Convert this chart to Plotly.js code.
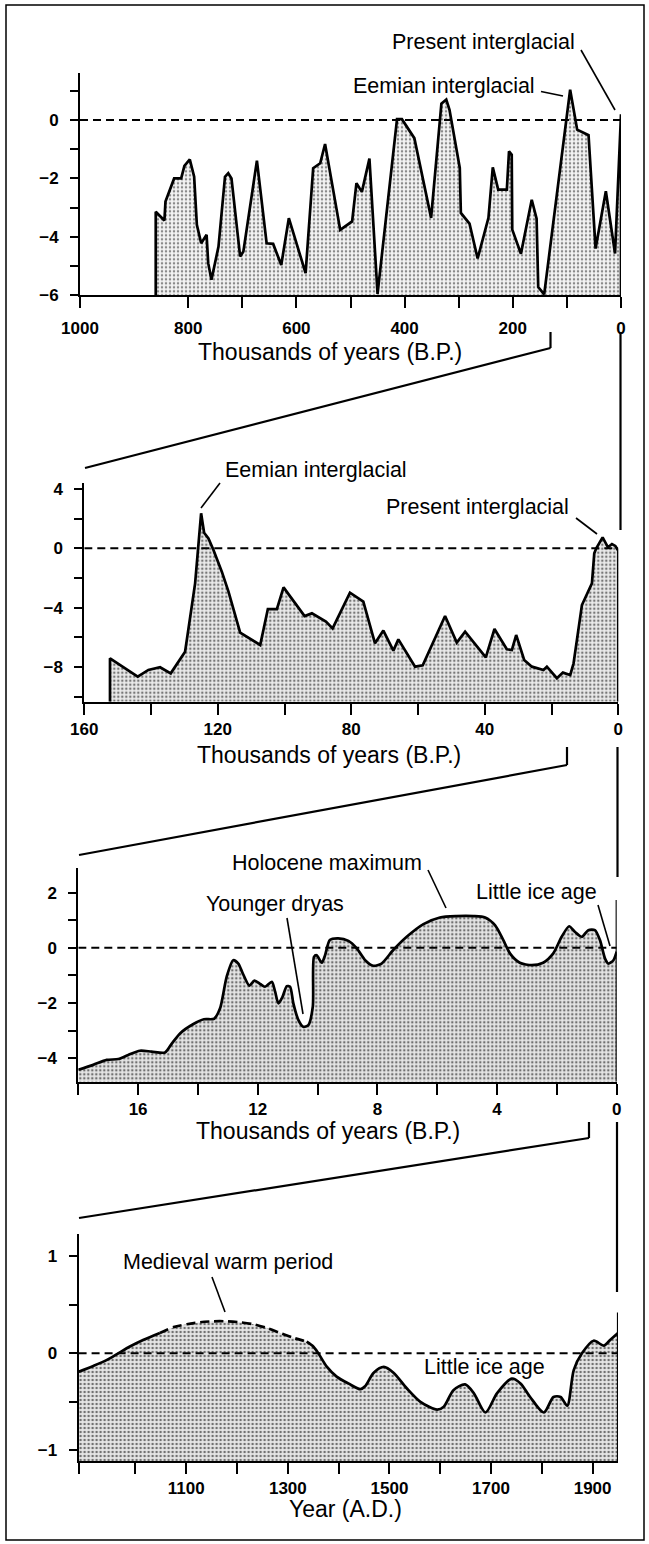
<!DOCTYPE html>
<html>
<head>
<meta charset="utf-8">
<script src="https://cdn.plot.ly/plotly-3.0.1.min.js"></script>
<style>
html,body{margin:0;padding:0;background:#fff;}
#chart{width:649px;height:1544px;}
</style>
</head>
<body>
<div id="chart"></div>
<script>
// ---------- DATA ----------
// Panel 1: last 1 million years (thousands of years B.P.)
const ages1 = [860,844,842,826,813,807,797,789,784,776,766,763,757,744,732,726,720,704,698,673,655,643,628,614,583,569,556,547,519,497,489,479,465,450,414,405,382,351,332,323,317,298,296,280,265,245,237,227,211,207,202,201,185,165,156,153,142,94,81,60,47,28,11,0];
const temps1 = [-3.14,-3.44,-2.79,-2.0,-2.0,-1.57,-1.35,-1.94,-3.59,-4.22,-3.93,-4.9,-5.47,-4.33,-1.94,-1.82,-2.0,-4.67,-4.5,-1.39,-4.22,-4.24,-4.96,-3.36,-5.24,-1.65,-1.48,-0.82,-3.76,-3.47,-2.16,-2.46,-1.32,-5.95,0.03,0.03,-0.62,-3.35,0.56,0.70,0.35,-1.64,-3.18,-3.55,-4.74,-3.35,-1.62,-2.38,-2.38,-1.07,-1.19,-3.75,-4.58,-2.73,-3.38,-5.72,-5.97,1.04,-0.33,-0.52,-4.4,-2.44,-4.57,0.2];

// Panel 2: last 160,000 years
const ages2 = [152.3,144,140.8,137.3,134.1,129.8,126.8,125,124.1,122.8,121.3,118.8,116.8,113.3,107.3,105,102.3,100.3,94,91.8,87.6,85.6,82.8,80.4,76.4,72.9,70.4,67.4,65.9,60.9,58.6,51.9,48.4,45.9,39.7,37.1,33.4,31.9,30.6,28.2,25.9,22.4,21.4,18.4,16.6,14.4,13.4,10.9,7.9,7.2,6.6,4.7,3.1,1.9,0.9,0];
const temps2 = [-7.41,-8.64,-8.19,-8.01,-8.42,-6.96,-2.36,2.36,1.05,0.67,-0.11,-1.57,-2.92,-5.68,-6.51,-4.09,-4.09,-2.63,-4.56,-4.38,-4.94,-5.39,-4.04,-2.99,-3.59,-6.40,-5.54,-6.89,-6.13,-7.97,-7.88,-4.56,-6.35,-5.61,-7.34,-5.43,-6.80,-6.85,-5.84,-7.52,-7.97,-8.19,-7.97,-8.75,-8.37,-8.53,-7.74,-3.82,-2.36,-0.34,0,0.74,0.07,0.29,0.16,-0.16];

// Panel 3: last 18,000 years
const ages3 = [18,17.5,17.05,16.66,16.33,15.94,15.55,15.1,14.88,14.6,14.15,13.8,13.46,13.26,13.04,12.82,12.65,12.5,12.28,12.11,11.92,11.76,11.53,11.42,11.31,11.17,11.03,10.92,10.81,10.64,10.48,10.31,10.16,10.12,10.03,9.86,9.75,9.59,9.31,8.97,8.69,8.41,8.14,7.86,7.47,7.02,6.46,5.91,5.35,4.79,4.4,4.07,3.79,3.57,3.24,2.84,2.46,2.12,1.84,1.59,1.4,1.17,0.95,0.73,0.56,0.39,0.28,0.11,0];
const temps3 = [-4.42,-4.24,-4.06,-4.03,-3.88,-3.73,-3.76,-3.79,-3.48,-3.10,-2.76,-2.59,-2.57,-2.19,-1.05,-0.45,-0.57,-0.93,-1.37,-1.19,-1.31,-1.41,-1.23,-1.59,-2.01,-1.77,-1.39,-1.41,-2.01,-2.62,-2.86,-2.80,-2.13,-0.33,-0.27,-0.54,-0.27,0.28,0.34,0.25,-0.02,-0.45,-0.65,-0.57,-0.08,0.40,0.86,1.10,1.15,1.15,1.10,0.82,0.28,-0.20,-0.54,-0.63,-0.54,-0.20,0.40,0.78,0.58,0.40,0.64,0.64,0.28,-0.39,-0.57,-0.45,-0.14];

// Panel 4: last 1,000 years (A.D.)
const years4 = [888,917,943,966,989,1016,1048,1075,1101,1127,1153,1180,1206,1232,1259,1285,1311,1337,1350,1360,1377,1396,1419,1443,1452,1469,1489,1508,1534,1561,1594,1607,1626,1649,1666,1689,1712,1741,1758,1777,1804,1823,1837,1850,1863,1879,1902,1922,1935,1950];
const temps4 = [-0.19,-0.13,-0.07,0,0.07,0.14,0.21,0.27,0.30,0.32,0.33,0.33,0.32,0.30,0.26,0.21,0.16,0.12,0.07,0,-0.14,-0.24,-0.31,-0.37,-0.34,-0.20,-0.14,-0.20,-0.36,-0.50,-0.58,-0.55,-0.38,-0.32,-0.41,-0.61,-0.41,-0.26,-0.31,-0.45,-0.61,-0.45,-0.45,-0.54,-0.17,0,0.13,0.08,0.14,0.21];
const dashedFrom4 = 1048, dashedTo4 = 1337;   // uncertain (dashed) part of the curve

// Tick values / labels
const xTicks1 = [1000,800,700,600,500,400,300,200,100,0];
const xLabels1 = ['1000','800','','600','','400','','200','','0'];
const yTicks1 = [-6,-5,-4,-3,-2,-1,0,1];
const yLabels1 = ['\u22126','','\u22124','','\u22122','','0',''];

const xTicks2 = [160,140,120,100,80,60,40,20,0];
const xLabels2 = ['160','','120','','80','','40','','0'];
const yTicks2 = [-10,-8,-6,-4,-2,0,2,4];
const yLabels2 = ['','\u22128','','\u22124','','0','','4'];

const xTicks3 = [18,16,14,12,10,8,6,4,2,0];
const xLabels3 = ['','16','','12','','8','','4','','0'];
const yTicks3 = [-4,-3,-2,-1,0,1,2];
const yLabels3 = ['\u22124','','\u22122','','0','','2'];

const xTicks4 = [888,1000,1100,1200,1300,1400,1500,1600,1700,1800,1900];
const xLabels4 = ['','','1100','','1300','','1500','','1700','','1900'];
const yTicks4 = [-1,-0.5,0,0.5,1];
const yLabels4 = ['\u22121','','0','','1'];

// ---------- LAYOUT HELPERS ----------
const W = 649, H = 1544;
const FONT = '"Liberation Sans", Arial, Helvetica, sans-serif';
const fx = p => p / W;
const fy = p => 1 - p / H;

const ranges = {
  x1: [1000, 0], y1: [-6, 1.6],
  x2: [160, 0],  y2: [-10.33, 4.42],
  x3: [18, 0],   y3: [-4.85, 2.88],
  x4: [888, 1950], y4: [-1.11, 1.23]
};

const tickFont = {family: FONT, size: 17, color: '#000', weight: 'bold'};
function xAxis(px0, px1, range, vals, text, anchor, standoff) {
  return {domain: [fx(px0), fx(px1)], range: range, anchor: anchor,
    tickmode: 'array', tickvals: vals, ticktext: text,
    ticks: 'outside', ticklen: 11, tickwidth: 2, tickcolor: '#000',
    showline: true, linecolor: '#000', linewidth: 2,
    showgrid: false, zeroline: false, tickfont: tickFont,
    ticklabelstandoff: standoff, fixedrange: true};
}
function yAxis(pyTop, pyBot, range, vals, text, anchor) {
  return {domain: [fy(pyBot), fy(pyTop)], range: range, anchor: anchor,
    tickmode: 'array', tickvals: vals, ticktext: text,
    ticks: 'outside', ticklen: 8, tickwidth: 2, tickcolor: '#000',
    showline: true, linecolor: '#000', linewidth: 2,
    showgrid: false, zeroline: false, tickfont: tickFont,
    ticklabelstandoff: 8, fixedrange: true};
}

function stipple(fg, bg) {
  return {shape: '.', size: 4, solidity: 0.3, fgcolor: fg, bgcolor: bg};
}

// closed polygon (data + drop to the axis floor at both ends)
function closedX(xs) { return [xs[0]].concat(xs, [xs[xs.length - 1]]); }
function closedY(ys, floor) { return [floor].concat(ys, [floor]); }

const LW = 2.7;
const traces = [];
// Panel 1
traces.push({x: closedX(ages1), y: closedY(temps1, ranges.y1[0]), xaxis: 'x', yaxis: 'y',
  mode: 'lines', line: {color: '#000', width: LW}, fill: 'toself',
  fillcolor: '#ececec', fillpattern: stipple('#8a8a8a', '#f3f3f3'), hoverinfo: 'skip'});
// Panel 2
traces.push({x: closedX(ages2), y: closedY(temps2, ranges.y2[0]), xaxis: 'x2', yaxis: 'y2',
  mode: 'lines', line: {color: '#000', width: LW}, fill: 'toself',
  fillcolor: '#e0e0e0', fillpattern: stipple('#777', '#ebebeb'), hoverinfo: 'skip'});
// Panel 3
traces.push({x: [ages3[0], ages3[ages3.length - 1]], y: [ranges.y3[0], ranges.y3[0]],
  xaxis: 'x3', yaxis: 'y3', mode: 'lines', line: {width: 0, color: 'rgba(0,0,0,0)'}, hoverinfo: 'skip'});
traces.push({x: ages3, y: temps3, xaxis: 'x3', yaxis: 'y3', mode: 'lines',
  line: {color: '#000', width: LW, shape: 'spline', smoothing: 0.7}, fill: 'tonexty',
  fillcolor: '#dcdcdc', fillpattern: stipple('#707070', '#e6e6e6'), hoverinfo: 'skip'});
// Panel 4
traces.push({x: [years4[0], years4[years4.length - 1]], y: [ranges.y4[0], ranges.y4[0]],
  xaxis: 'x4', yaxis: 'y4', mode: 'lines', line: {width: 0, color: 'rgba(0,0,0,0)'}, hoverinfo: 'skip'});
traces.push({x: years4, y: temps4, xaxis: 'x4', yaxis: 'y4', mode: 'lines',
  line: {color: 'rgba(0,0,0,0)', width: 0, shape: 'spline', smoothing: 0.8}, fill: 'tonexty',
  fillcolor: '#dcdcdc', fillpattern: stipple('#707070', '#e6e6e6'), hoverinfo: 'skip'});
function segment(lo, hi) {
  const xs = [], ys = [];
  years4.forEach((yr, i) => { if (yr >= lo && yr <= hi) { xs.push(yr); ys.push(temps4[i]); } });
  return {xs, ys};
}
const segA = segment(years4[0], dashedFrom4);
const segB = segment(dashedFrom4, dashedTo4);
const segC = segment(dashedTo4, years4[years4.length - 1]);
[[segA, 'solid'], [segB, '9px,5px'], [segC, 'solid']].forEach(([s, d]) => {
  traces.push({x: s.xs, y: s.ys, xaxis: 'x4', yaxis: 'y4', mode: 'lines',
    line: {color: '#000', width: LW, dash: d, shape: 'spline', smoothing: 0.8}, hoverinfo: 'skip'});
});

// ---------- DECORATIONS ----------
function pline(x0, y0, x1, y1, w) {
  return {type: 'line', xref: 'paper', yref: 'paper', x0: fx(x0), y0: fy(y0), x1: fx(x1), y1: fy(y1),
    line: {color: '#000', width: w || 2.2}};
}
function zeroLine(xr, yr, range) {
  return {type: 'line', xref: xr, yref: yr, x0: range[0], x1: range[1], y0: 0, y1: 0,
    line: {color: '#000', width: 2, dash: '8px,5px'}};
}
const shapes = [
  {type: 'rect', xref: 'paper', yref: 'paper', x0: fx(6), x1: fx(644), y0: fy(1540), y1: fy(5),
    line: {color: '#000', width: 1.5}, fillcolor: 'rgba(0,0,0,0)', layer: 'below'},
  zeroLine('x', 'y', ranges.x1),
  zeroLine('x2', 'y2', ranges.x2),
  zeroLine('x3', 'y3', ranges.x3),
  zeroLine('x4', 'y4', ranges.x4),
  // right-hand end bars of panels 3 and 4
  {type: 'line', xref: 'x3', yref: 'y3', x0: 0, x1: 0, y0: ranges.y3[0], y1: 1.73, line: {color: '#000', width: 2.2}},
  {type: 'line', xref: 'x4', yref: 'y4', x0: 1950, x1: 1950, y0: ranges.y4[0], y1: 0.42, line: {color: '#000', width: 2.2}},
  // zoom connectors 1 -> 2
  pline(550.5, 332, 550.5, 348), pline(550.5, 348, 85, 468), pline(620.5, 333, 620.5, 530),
  // 2 -> 3
  pline(567, 747, 567, 765), pline(567, 765, 79, 855), pline(617.5, 747, 617.5, 877),
  // 3 -> 4
  pline(589, 1122, 589, 1138), pline(589, 1138, 79, 1218), pline(617, 1122, 617, 1292),
  // annotation leader lines
  pline(581, 50, 615, 110, 1.6),     // present interglacial (1)
  pline(541, 91.5, 563, 96, 1.6),    // eemian (1)
  pline(220, 483, 201, 508, 1.6),    // eemian (2)
  pline(576, 518, 597, 534, 1.6),    // present interglacial (2)
  pline(428, 870, 446, 908, 1.6),    // holocene maximum
  pline(287, 918, 303, 1014, 1.6),   // younger dryas
  pline(598, 905, 610, 946, 1.6),    // little ice age (3)
  pline(212, 1277, 225, 1312, 1.6)   // medieval warm period
];

function note(text, x, y, anchor, size) {
  return {text: text, xref: 'paper', yref: 'paper', x: fx(x), y: fy(y), xanchor: anchor || 'center',
    yanchor: 'middle', showarrow: false, font: {family: FONT, size: size || 21.5, color: '#000'}};
}
const TS = 23;
const annotations = [
  note('Present interglacial', 577, 42, 'right'),
  note('Eemian interglacial', 537, 86, 'right'),
  note('Thousands of years (B.P.)', 330, 352, 'center', TS),
  note('Eemian interglacial', 223, 470, 'left'),
  note('Present interglacial', 571, 507, 'right'),
  note('Thousands of years (B.P.)', 329, 755, 'center', TS),
  note('Holocene maximum', 424, 863, 'right'),
  note('Younger dryas', 275, 904, 'center'),
  note('Little ice age', 599, 892, 'right'),
  note('Thousands of years (B.P.)', 328, 1131, 'center', TS),
  note('Medieval warm period', 228, 1262, 'center'),
  note('Little ice age', 484, 1367, 'center'),
  note('Year (A.D.)', 345, 1509, 'center', TS)
];

const layout = {
  width: W, height: H, margin: {l: 0, r: 0, t: 0, b: 0},
  paper_bgcolor: '#fff', plot_bgcolor: 'rgba(0,0,0,0)', showlegend: false,
  font: {family: FONT, color: '#000'},
  xaxis:  xAxis(80, 621, ranges.x1, xTicks1, xLabels1, 'y', 5),
  yaxis:  yAxis(73.3, 295.3, ranges.y1, yTicks1, yLabels1, 'x'),
  xaxis2: xAxis(84.3, 618.3, ranges.x2, xTicks2, xLabels2, 'y2', 0),
  yaxis2: yAxis(482.7, 701.7, ranges.y2, yTicks2, yLabels2, 'x2'),
  xaxis3: xAxis(78.3, 616.7, ranges.x3, xTicks3, xLabels3, 'y3', 0),
  yaxis3: yAxis(868.3, 1081.7, ranges.y3, yTicks3, yLabels3, 'x3'),
  xaxis4: xAxis(78.6, 618, ranges.x4, xTicks4, xLabels4, 'y4', 0),
  yaxis4: yAxis(1234, 1461, ranges.y4, yTicks4, yLabels4, 'x4'),
  shapes: shapes,
  annotations: annotations
};

Plotly.newPlot('chart', traces, layout, {staticPlot: true, displayModeBar: false});
</script>
</body>
</html>
